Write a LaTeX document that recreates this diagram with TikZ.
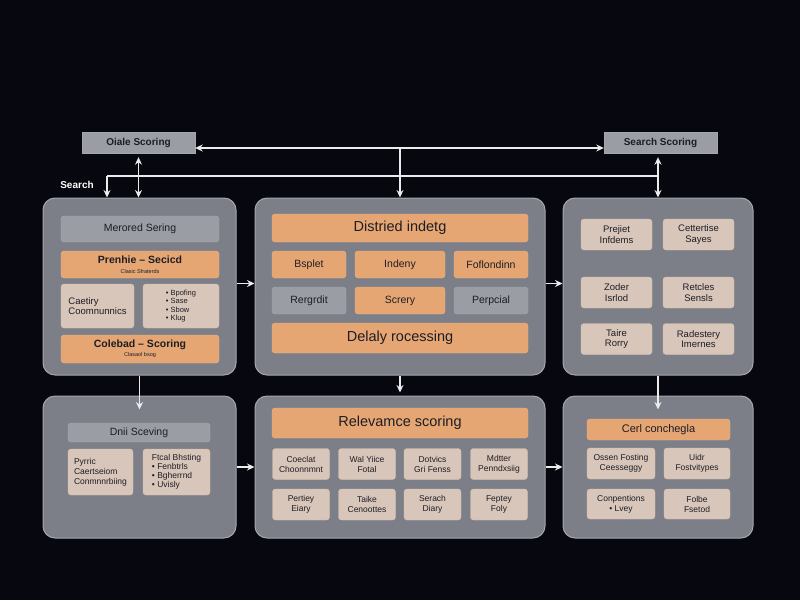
\documentclass[tikz,border=0pt]{standalone}
\usepackage{fontspec}
\setmainfont{Liberation Sans}
\usepackage{tikz}
\usetikzlibrary{arrows.meta,positioning}

\definecolor{bgcol}{HTML}{06070F}
\definecolor{panelfill}{HTML}{7C7F88}
\definecolor{panelline}{HTML}{A5A7AD}
\definecolor{orangefill}{HTML}{E6A674}
\definecolor{grayfill}{HTML}{9A9DA4}
\definecolor{palefill}{HTML}{D9C6BA}
\definecolor{inktext}{HTML}{1D1D24}

\begin{document}
\begin{tikzpicture}[x=1pt,y=-1pt,
		panel/.style={draw=panelline,fill=panelfill,line width=1pt,rounded corners=12pt},
		inbox/.style={rounded corners=3pt,text=inktext,align=center,inner sep=1pt,font=\fontsize{9.5}{10.5}\selectfont},
		orangebox/.style={inbox,fill=orangefill,draw=orangefill!85!white},
		graybox/.style={inbox,fill=grayfill,draw=grayfill!85!white},
		palebox/.style={inbox,fill=palefill,draw=palefill!80!orangefill},
		topbox/.style={fill=grayfill,draw=panelline,text=inktext,minimum width=113pt,minimum height=21pt,font=\bfseries\fontsize{10}{11}\selectfont},
		bigtext/.style={font=\fontsize{14.5}{15}\selectfont},
		link/.style={draw=white!92!black,line width=1.2pt,-{Stealth[length=7.5pt,width=7pt]}},
		biglink/.style={link,{Stealth[length=7.5pt,width=7pt]}-{Stealth[length=7.5pt,width=7pt]}}]
	\fill[bgcol] (0,0) rectangle (800,600);
	\useasboundingbox (0,0) rectangle (800,600);

	% top boxes
	\node[topbox] (oiale) at (138.5,142.5) {Oiale Scoring};
	\node[topbox] (searchsc) at (660.5,142.5) {Search Scoring};
	\node[text=white,font=\bfseries\fontsize{10}{11}\selectfont] (searchlbl) at (77,185) {Search};

	% panels
	\node[panel,minimum width=193pt,minimum height=177pt] (tl) at (139.5,286.5) {};
	\node[panel,minimum width=290pt,minimum height=177pt] (tm) at (400,286.5) {};
	\node[panel,minimum width=190pt,minimum height=177pt] (tr) at (658,286.5) {};
	\node[panel,minimum width=193pt,minimum height=142pt] (bl) at (139.5,467) {};
	\node[panel,minimum width=290pt,minimum height=142pt] (bm) at (400,467) {};
	\node[panel,minimum width=190pt,minimum height=142pt] (br) at (658,467) {};

	% top left panel
	\node[graybox,minimum width=158pt,minimum height=26pt,font=\fontsize{10.5}{11}\selectfont] (merored) at (140,229) {Merored Sering};
	\node[orangebox,minimum width=158pt,minimum height=27pt] (prenhie) at (140,264.5)
		{{\bfseries\fontsize{10.5}{10.5}\selectfont Prenhie -- Secicd}\\[-1pt]{\fontsize{5.5}{5.5}\selectfont Clasic Sfraterds}};
	\node[palebox,minimum width=73pt,minimum height=44pt,align=left] (caetiry) at (97.5,306) {Caetiry\\Coomnunnics};
	\node[palebox,minimum width=76pt,minimum height=44pt,align=left,font=\fontsize{7.5}{8.5}\selectfont] (bpofing) at (181,306)
		{• Bpofing\\• Sase\\• Sbow\\• Klug};
	\node[orangebox,minimum width=158pt,minimum height=28pt] (colebad) at (140,349)
		{{\bfseries\fontsize{10.5}{10.5}\selectfont Colebad -- Scoring}\\[-1pt]{\fontsize{5.5}{5.5}\selectfont Clasaol bsog}};

	% top middle panel
	\node[orangebox,bigtext,minimum width=256pt,minimum height=28pt] (distried) at (400,228) {Distried indetg};
	\node[orangebox,minimum width=74pt,minimum height=27pt,font=\fontsize{10.5}{11}\selectfont] (bsplet) at (309,264.5) {Bsplet};
	\node[orangebox,minimum width=90pt,minimum height=27pt,font=\fontsize{10.5}{11}\selectfont] (indeny) at (400,264.5) {Indeny};
	\node[orangebox,minimum width=74pt,minimum height=27pt,font=\fontsize{10.5}{11}\selectfont] (foflon) at (491,264.5) {Foflondinn};
	\node[graybox,minimum width=74pt,minimum height=27pt,font=\fontsize{10.5}{11}\selectfont] (rergrdit) at (309,300.5) {Rergrdit};
	\node[orangebox,minimum width=90pt,minimum height=27pt,font=\fontsize{10.5}{11}\selectfont] (screry) at (400,300.5) {Screry};
	\node[graybox,minimum width=74pt,minimum height=27pt,font=\fontsize{10.5}{11}\selectfont] (perpcial) at (491,300.5) {Perpcial};
	\node[orangebox,bigtext,minimum width=256pt,minimum height=30pt] (delaly) at (400,338) {Delaly rocessing};

	% top right panel
	\foreach \n/\x/\y/\t in {a/616.5/234.5/{Prejiet\\Infdems},b/698.5/234.5/{Cettertise\\Sayes},
			c/616.5/292.5/{Zoder\\Isrlod},d/698.5/292.5/{Retcles\\Sensls},
			e/616.5/339/{Taire\\Rorry},f/698.5/339/{Radestery\\Imernes}}
		\node[palebox,minimum width=71pt,minimum height=31pt] (tr\n) at (\x,\y) {\t};

	% bottom left panel
	\node[graybox,minimum width=142pt,minimum height=19pt,font=\fontsize{10.5}{11}\selectfont] (dnii) at (139,432.5) {Dnii Sceving};
	\node[palebox,minimum width=65pt,minimum height=46pt,align=left,font=\fontsize{8.5}{10}\selectfont] (pyrric) at (100.5,472)
		{Pyrric\\Caertseiom\\Conmnnrbiing};
	\node[palebox,minimum width=67pt,minimum height=46pt,align=left,font=\fontsize{8.5}{9}\selectfont] (ftcal) at (176.5,472)
		{Ftcal Bhsting\\• Fenbtrls\\• Bgherrnd\\• Uvisly};

	% bottom middle panel
	\node[orangebox,bigtext,minimum width=256pt,minimum height=30pt] (relev) at (400,423) {Relevamce scoring};
	\foreach \n/\x/\y/\t in {a/301/464/{Coeclat\\Choonnmnt},b/367/464/{Wal Yiice\\Fotal},
			c/432.5/464/{Dotvics\\Gri Fenss},d/499/464/{Mdtter\\Penndxsiig},
			e/301/504.5/{Pertiey\\Eiary},f/367/504.5/{Taike\\Cenoottes},
			g/432.5/504.5/{Serach\\Diary},h/499/504.5/{Feptey\\Foly}}
		\node[palebox,minimum width=57pt,minimum height=31pt,font=\fontsize{8.5}{10}\selectfont] (bm\n) at (\x,\y) {\t};

	% bottom right panel
	\node[orangebox,minimum width=143pt,minimum height=21pt,font=\fontsize{11}{12}\selectfont] (cerl) at (658.5,429.5) {Cerl conchegla};
	\node[palebox,minimum width=68pt,minimum height=31pt,font=\fontsize{8.5}{10}\selectfont] (ossen) at (621,463.5) {Ossen Fosting\\Ceesseggy};
	\node[palebox,minimum width=66pt,minimum height=31pt,font=\fontsize{8.5}{10}\selectfont] (uidr) at (697,463.5) {Uidr\\Fostvitypes};
	\node[palebox,minimum width=68pt,minimum height=30pt,font=\fontsize{8.5}{10}\selectfont] (conpen) at (621,504) {Conpentions\\• Lvey};
	\node[palebox,minimum width=66pt,minimum height=30pt,font=\fontsize{8.5}{10}\selectfont] (folbe) at (697,504) {Folbe\\Fsetod};

	% connectors
	\coordinate (hub) at (400,148);
	\coordinate (busL) at (107,176);
	\coordinate (busR) at (658,176);
	\draw[biglink] ([yshift=-5.5pt]oiale.east) -- ([yshift=-5.5pt]searchsc.west);
	\draw[link] (hub) -- (tm.north);
	\draw[biglink,shorten <=4pt] (oiale.south) -- (oiale.south |- tl.north);
	\draw[biglink,shorten <=4pt] ([xshift=-2.5pt]searchsc.south) -- ([xshift=-2.5pt]searchsc.south |- tr.north);
	\draw[draw=white!92!black,line width=1.2pt] (busR) -- (busL);
	\draw[link] (busL) -- (busL |- tl.north);
	\draw[link] ([yshift=3pt]tl.east) -- ([yshift=3pt]tm.west);
	\draw[link] ([yshift=3pt]tm.east) -- ([yshift=3pt]tr.west);
	\draw[link] (bl.east) -- (bm.west);
	\draw[link] (bm.east) -- (br.west);
	\draw[link,shorten >=-14pt] (tl.south) -- (bl.north);
	\draw[link,shorten >=3pt] (tm.south) -- (bm.north);
	\draw[link,shorten >=-14pt] (tr.south) -- (br.north);
\end{tikzpicture}
\end{document}
